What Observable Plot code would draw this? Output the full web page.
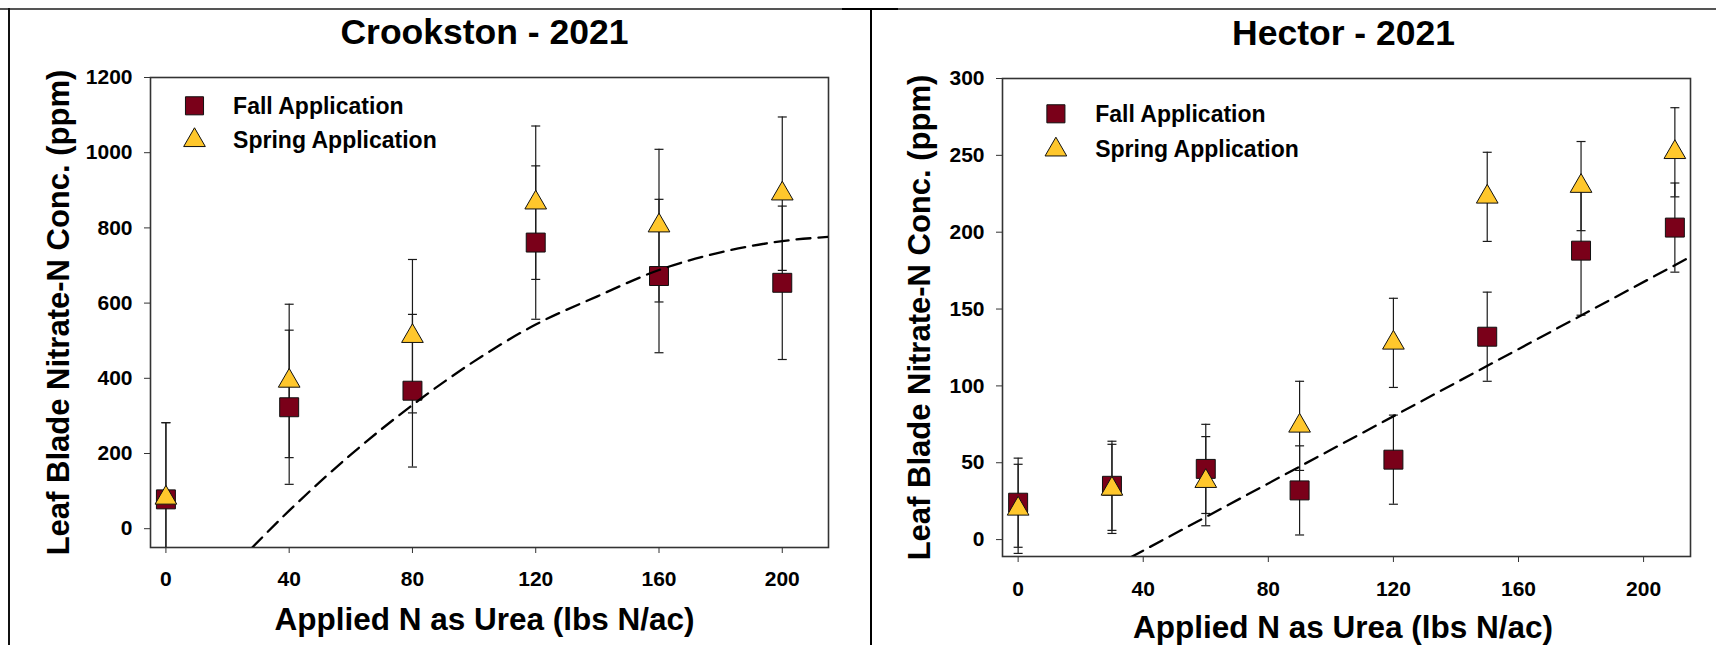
<!DOCTYPE html>
<html>
<head>
<meta charset="utf-8">
<script src="https://cdn.jsdelivr.net/npm/d3@7"></script>
<script src="https://cdn.jsdelivr.net/npm/@observablehq/plot@0.6"></script>
<style>
  html, body { margin: 0; padding: 0; background: #fff; }
  #wrap { position: relative; width: 1716px; height: 645px; background: #fff; overflow: hidden; }
  .panel { position: absolute; top: 0; }
  .line { position: absolute; pointer-events: none; }
</style>
</head>
<body>
<div id="wrap">
  <div id="p1" class="panel" style="left:0px"></div>
  <div id="p2" class="panel" style="left:872px"></div>
  <div class="line" style="left:0;top:8px;width:1716px;height:2px;background:#555"></div>
  <div class="line" style="left:842px;top:8px;width:56px;height:2px;background:#000"></div>
  <div class="line" style="left:8px;top:8px;width:2px;height:637px;background:#111"></div>
  <div class="line" style="left:870px;top:8px;width:2px;height:637px;background:#000"></div>
</div>
<script>
// ---------- data ----------
const seriesNames = ["Fall Application", "Spring Application"];
const xLabel = "Applied N as Urea (lbs N/ac)";
const yLabel = "Leaf Blade Nitrate-N Conc. (ppm)";

// Crookston - 2021
const crookTitle = "Crookston - 2021";
const crookX = [0, 40, 80, 120, 160, 200];
const crookFall = [78, 323, 367, 761, 672, 654];
const crookFallErr = [204, 205, 203, 204, 204, 204];
const crookSpring = [82, 393, 512, 867, 806, 891];
const crookSpringErr = [200, 204, 204, 204, 203, 204];
const crookFitX = [28, 40, 60, 80, 100, 120, 140, 160, 180, 200, 215];
const crookFitY = [-50, 48, 197, 329, 445, 543, 618, 688, 735, 765, 776];
const crookYTicks = [0, 200, 400, 600, 800, 1000, 1200];

// Hector - 2021
const hectorTitle = "Hector - 2021";
const hectorX = [0, 30, 60, 90, 120, 150, 180, 210];
const hectorFall = [24, 35, 46, 32, 52, 132, 188, 203];
const hectorFallErr = [29, 29, 29, 29, 29, 29, 42, 29];
const hectorSpring = [20, 33, 38, 74, 128, 223, 230, 252];
const hectorSpringErr = [29, 29, 29, 29, 29, 29, 29, 29];
const hectorFitX = [36, 215];
const hectorFitY = [-11.5, 184];
const hectorYTicks = [0, 50, 100, 150, 200, 250, 300];

const xTicks = [0, 40, 80, 120, 160, 200];

// ---------- styling ----------
const FALL = "#7a0019";
const SPRING = "#ffc72c";
const FONT = "'Liberation Sans', Arial, sans-serif";

const capSymbol = {
  draw(ctx, size) {
    const r = Math.sqrt(size / Math.PI);
    ctx.moveTo(-r, 0);
    ctx.lineTo(r, 0);
  }
};

function rows(xs, ys, es) {
  return xs.map((x, i) => ({x, y: ys[i], e: es[i]}));
}

function panel(cfg) {
  const fall = rows(cfg.x, cfg.fall, cfg.fallErr);
  const spring = rows(cfg.x, cfg.spring, cfg.springErr);
  const fit = cfg.fitX.map((x, i) => ({x, y: cfg.fitY[i]}));
  const errMarks = (data) => [
    Plot.ruleX(data, {x: "x", y1: d => d.y - d.e, y2: d => d.y + d.e, stroke: "#1a1a1a", strokeWidth: 1.2, clip: true}),
    Plot.dot(data, {x: "x", y: d => d.y + d.e, symbol: capSymbol, r: 4.5, stroke: "#1a1a1a", strokeWidth: 1.2, fill: "none", clip: true}),
    Plot.dot(data, {x: "x", y: d => d.y - d.e, symbol: capSymbol, r: 4.5, stroke: "#1a1a1a", strokeWidth: 1.2, fill: "none", clip: true})
  ];
  const txt = {text: d => d, fontWeight: "bold", fill: "#000", lineAnchor: "middle"};
  return Plot.plot({
    width: cfg.width,
    height: 645,
    marginLeft: cfg.ml,
    marginRight: cfg.mr,
    marginTop: cfg.mt,
    marginBottom: cfg.mb,
    style: {fontFamily: FONT, fontWeight: "bold", color: "#000", background: "transparent", overflow: "visible"},
    x: {domain: [-5, 215]},
    y: {domain: cfg.yDomain},
    marks: [
      Plot.frame({stroke: "#333", strokeWidth: 1.6}),
      Plot.axisX({ticks: xTicks, tickFormat: d => String(d), tickSize: 6, tickPadding: cfg.xPad, fontSize: 21, fontWeight: "bold", label: null, stroke: "#333"}),
      Plot.axisY({ticks: cfg.yTicks, tickFormat: d => String(d), tickSize: 6, tickPadding: 12, fontSize: 21, fontWeight: "bold", label: null, stroke: "#333"}),
      ...errMarks(fall),
      ...errMarks(spring),
      Plot.dot(fall, {x: "x", y: "y", symbol: "square", r: 10.7, fill: FALL, stroke: "#111", strokeWidth: 1}),
      Plot.dot(spring, {x: "x", y: "y", symbol: "triangle", r: 8.05, fill: SPRING, stroke: "#111", strokeWidth: 1}),
      Plot.line(fit, {x: "x", y: "y", curve: "monotone-x", stroke: "#000", strokeWidth: 2.3, strokeDasharray: "14,8", clip: true}),
      // legend
      Plot.dot([seriesNames[0]], {frameAnchor: "top-left", dx: cfg.leg.sx, dy: cfg.leg.y1, symbol: "square", r: 10.2, fill: FALL, stroke: "#111", strokeWidth: 1}),
      Plot.dot([seriesNames[1]], {frameAnchor: "top-left", dx: cfg.leg.sx, dy: cfg.leg.y2, symbol: "triangle", r: 8.05, fill: SPRING, stroke: "#111", strokeWidth: 1}),
      Plot.text([seriesNames[0]], {...txt, frameAnchor: "top-left", dx: cfg.leg.tx, dy: cfg.leg.t1, textAnchor: "start", fontSize: 23}),
      Plot.text([seriesNames[1]], {...txt, frameAnchor: "top-left", dx: cfg.leg.tx, dy: cfg.leg.t2, textAnchor: "start", fontSize: 23}),
      // titles and axis labels
      Plot.text([cfg.title], {...txt, frameAnchor: "top", textAnchor: "middle", dx: cfg.titleDx, dy: cfg.titleDy, fontSize: 35.5}),
      Plot.text([xLabel], {...txt, frameAnchor: "bottom", textAnchor: "middle", dx: cfg.xlDx, dy: cfg.xlDy, fontSize: 31.5}),
      Plot.text([yLabel], {...txt, frameAnchor: "left", textAnchor: "middle", dx: cfg.ylDx, dy: 0, rotate: -90, fontSize: 31})
    ]
  });
}

document.getElementById("p1").appendChild(panel({
  width: 872, ml: 150, mr: 44, mt: 77, mb: 98,
  x: crookX, fall: crookFall, fallErr: crookFallErr, spring: crookSpring, springErr: crookSpringErr,
  fitX: crookFitX, fitY: crookFitY,
  yDomain: [-50, 1200], yTicks: crookYTicks, xPad: 18,
  title: crookTitle, titleDx: -5, titleDy: -45,
  xlDx: -5, xlDy: 72, ylDx: -91,
  leg: {sx: 44, y1: 28.3, y2: 62.8, tx: 82.6, t1: 28.7, t2: 63}
}));

document.getElementById("p2").appendChild(panel({
  width: 844, ml: 130, mr: 26, mt: 78, mb: 89,
  x: hectorX, fall: hectorFall, fallErr: hectorFallErr, spring: hectorSpring, springErr: hectorSpringErr,
  fitX: hectorFitX, fitY: hectorFitY,
  yDomain: [-11, 300], yTicks: hectorYTicks, xPad: 19,
  title: hectorTitle, titleDx: -3, titleDy: -44.5,
  xlDx: -3.5, xlDy: 71.5, ylDx: -82,
  leg: {sx: 53.4, y1: 35.3, y2: 71.2, tx: 92.7, t1: 36.3, t2: 71.3}
}));
</script>
</body>
</html>
